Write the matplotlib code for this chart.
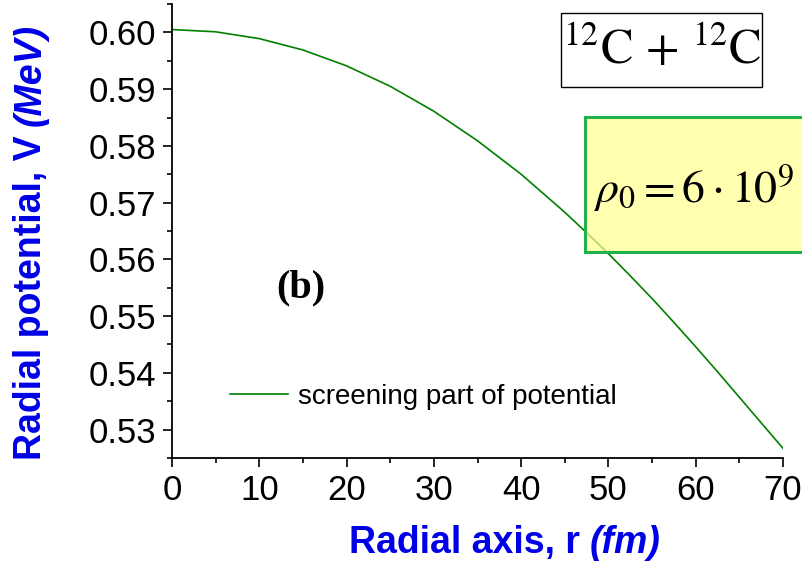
import matplotlib
matplotlib.use('Agg')
import matplotlib.pyplot as plt
from matplotlib.patches import Rectangle

# данные кривой
r_fm = [0, 5, 10, 15, 20, 25, 30, 35, 40, 45, 47.5, 50, 52.5, 55, 57.5,
        60, 62.5, 65, 67.5, 70]
v_mev = [0.6005, 0.6001, 0.5989, 0.5969, 0.5941, 0.5905, 0.5861, 0.5809,
         0.5750, 0.5683, 0.5647, 0.5610, 0.5571, 0.5531, 0.5489,
         0.5446, 0.5402, 0.5357, 0.5312, 0.5267]
x_ticks = [0, 10, 20, 30, 40, 50, 60, 70]
y_ticks = [0.53, 0.54, 0.55, 0.56, 0.57, 0.58, 0.59, 0.60]
y_tick_labels = ['0.53', '0.54', '0.55', '0.56', '0.57', '0.58', '0.59', '0.60']
legend_label = 'screening part of potential'
x_label = ['Radial axis, r', '(fm)']
y_label = ['Radial potential, V', '(MeV)']

W, H = 802, 563
LABEL_BLUE = '#0000e6'

plt.rcParams['font.family'] = ['Liberation Sans', 'DejaVu Sans']


def fx(px):
    return px / W


def fy(py):
    return 1 - py / H


fig = plt.figure(figsize=(W / 100, H / 100), dpi=100)
ax = fig.add_axes([fx(172), fy(458), fx(783) - fx(172), fy(4) - fy(458)])

ax.plot(r_fm, v_mev, color='#008000', linewidth=1.2, label=legend_label)

ax.set_xlim(0, 70)
ax.set_ylim(0.5251, 0.6047)
ax.set_xticks(x_ticks)
ax.set_xticks([v + 5 for v in x_ticks[:-1]], minor=True)
ax.set_yticks(y_ticks)
ax.set_yticklabels(y_tick_labels)
ax.set_yticks([v + 0.005 for v in y_ticks] + [0.525], minor=True)

for side in ['top', 'right']:
    ax.spines[side].set_visible(False)
for side in ['left', 'bottom']:
    ax.spines[side].set_linewidth(1.3)

ax.tick_params(which='major', direction='out', length=6.5, width=1.2,
               labelsize=25, pad=5)
ax.tick_params(which='minor', direction='out', length=3.5, width=1.2)

# подписи осей: обычная часть + курсивная единица
renderer = fig.canvas.get_renderer()
gap = 10  # пробел между частями, px

t1 = fig.text(0, 0, x_label[0], color=LABEL_BLUE, fontsize=27,
              fontweight='bold', ha='left', va='center')
t2 = fig.text(0, 0, x_label[1], color=LABEL_BLUE, fontsize=27,
              fontweight='bold', fontstyle='italic', ha='left', va='center')
w1 = t1.get_window_extent(renderer).width
w2 = t2.get_window_extent(renderer).width
x0 = 505 - (w1 + gap + w2) / 2
t1.set_position((fx(x0), fy(543)))
t2.set_position((fx(x0 + w1 + gap), fy(543)))

s1 = fig.text(0, 0, y_label[0], color=LABEL_BLUE, fontsize=27,
              fontweight='bold', rotation=90, ha='center', va='center')
s2 = fig.text(0, 0, y_label[1], color=LABEL_BLUE, fontsize=27,
              fontweight='bold', fontstyle='italic', rotation=90,
              ha='center', va='center')
h1 = s1.get_window_extent(renderer).height
h2 = s2.get_window_extent(renderer).height
y_bottom = 242 + (h1 + gap + h2) / 2
s1.set_position((fx(31), fy(y_bottom - h1 / 2)))
s2.set_position((fx(31), fy(y_bottom - h1 - gap - h2 / 2)))

# легенда без рамки
ax.legend(loc='center left', bbox_to_anchor=(fx(230), fy(397)),
          bbox_transform=fig.transFigure, frameon=False, fontsize=20,
          handlelength=2.1, handletextpad=0.35, borderpad=0,
          borderaxespad=0)

# метка панели
fig.text(fx(301), fy(288), '(b)', family='Liberation Serif',
         fontweight='bold', fontsize=29, ha='center', va='center')

# рамка с реакцией
fig.add_artist(Rectangle((fx(561), fy(87)), fx(762) - fx(561), fy(13) - fy(87),
                         transform=fig.transFigure, facecolor='white',
                         edgecolor='black', linewidth=1.0, zorder=5))
fig.text(fx(662), fy(50), r'$^{12}\mathrm{C}\,+\,{}^{12}\mathrm{C}$',
         math_fontfamily='stix', fontsize=35, ha='center', va='center',
         zorder=6)

# жёлтая плашка с плотностью
fig.add_artist(Rectangle((fx(585), fy(252)), fx(840) - fx(585), fy(117) - fy(252),
                         transform=fig.transFigure,
                         facecolor=(1, 1, 0.557, 0.7),
                         edgecolor='#22b24c', linewidth=2.2, zorder=5))
fig.text(fx(594), fy(203), r'$\rho_0=6\cdot10^9$',
         math_fontfamily='stix', fontsize=33, ha='left', va='baseline',
         zorder=6)

fig.savefig('out.png', dpi=100)
plt.close(fig)
